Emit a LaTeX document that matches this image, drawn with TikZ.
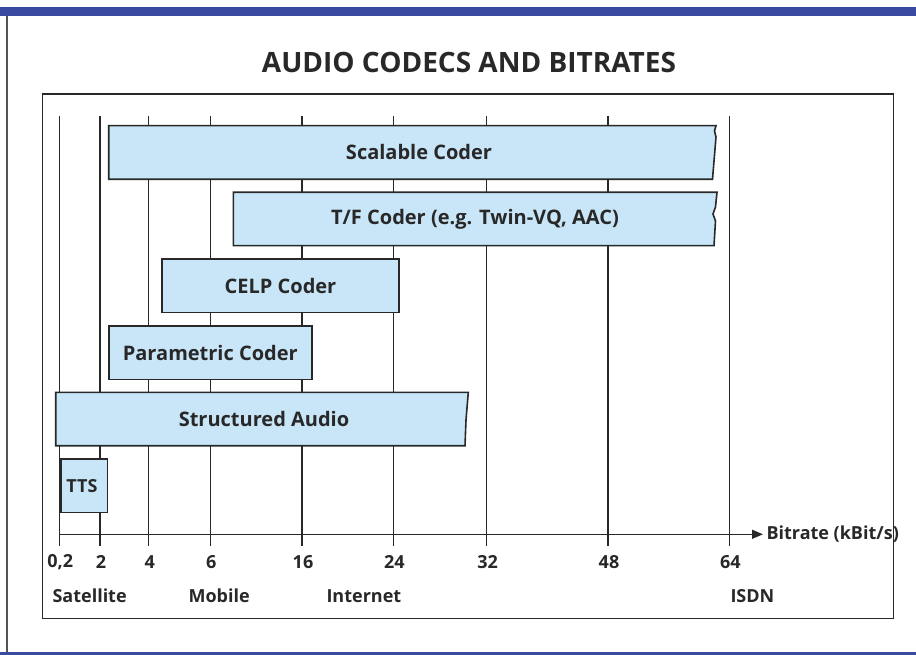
\documentclass[tikz,border=0pt]{standalone}
\usepackage{fontspec}
\setmainfont{Open Sans}
\usetikzlibrary{arrows.meta}
\definecolor{barblue}{RGB}{58,74,160}
\definecolor{boxblue}{RGB}{200,230,248}
\definecolor{inkgray}{RGB}{40,40,40}
\tikzset{
  grid line/.style={line width=1.2pt, inkgray},
  coder/.style={draw=inkgray, line width=1.6pt, fill=boxblue},
  coder text/.style={font=\bfseries\fontsize{20}{22}\selectfont, text=inkgray},
  tick text/.style={font=\bfseries\fontsize{18}{20}\selectfont, text=inkgray},
}
\begin{document}
\begin{tikzpicture}[x=1pt,y=-1pt,>={Triangle[length=11pt,width=9pt]}]
\useasboundingbox (0,0) rectangle (916,655);
\fill[white] (0,0) rectangle (916,655);
% frame
\fill[barblue] (0,7) rectangle (916,16);
\fill[barblue] (0,651.5) rectangle (916,655);
\draw[line width=1.2pt, inkgray!80] (7,16) -- (7,651.5);
\node[font=\bfseries\fontsize{28}{30}\selectfont, text=inkgray] (title) at (469,62) {AUDIO CODECS AND BITRATES};
\draw[line width=1.8pt, inkgray] (42.5,94) rectangle (893.5,618.5);
% grid lines
\foreach \x/\lab in {59.3/{0,2}, 100/2, 148.7/4, 210.3/6, 302/16, 393.3/24, 486.7/32, 608/48, 729.3/64} {
  \draw[grid line] (\x,116) -- (\x,546);
  \node[tick text] at (\x+1,562) {\lab};
}
% axis
\draw[->, line width=1.2pt, inkgray] (59.3,534.3) coordinate (axisstart) -- (763,534.3) coordinate (axisend);
\node[tick text, anchor=west] (axislabel) at (axisend) {Bitrate (kBit/s)};
% coders
\filldraw[coder] (108.7,125.7) -- (716,125.7) -- (714.5,131) -- (716,137) -- (712.5,179.3) -- (108.7,179.3) -- cycle;
\node[coder text] (scalable) at (419,152.5) {Scalable Coder};
\filldraw[coder] (233.3,192.3) -- (717,192.3) -- (715.5,207) -- (713,214) -- (715.5,221) -- (714,245.7) -- (233.3,245.7) -- cycle;
\node[coder text] (tf) at (475,219) {T/F Coder (e.g. Twin-VQ, AAC)};
\filldraw[coder] (162,259) rectangle (399,312.3);
\node[coder text] (celp) at (280.5,285.7) {CELP Coder};
\filldraw[coder] (109,325.7) rectangle (311.7,379.3);
\node[coder text] (parametric) at (210.3,352.5) {Parametric Coder};
\filldraw[coder] (55.7,392.3) -- (468.3,392.3) -- (466,420) -- (465,445.7) -- (55.7,445.7) -- cycle;
\node[coder text] (structured) at (264,419) {Structured Audio};
\filldraw[coder] (61,459) rectangle (107.3,512.3);
\node[coder text, font=\bfseries\fontsize{18}{20}\selectfont] (tts) at (82,485.7) {TTS};
% application areas
\node[tick text, anchor=west] (satellite) at (49,596) {Satellite};
\node[tick text, anchor=west] (mobile) at (185,596) {Mobile};
\node[tick text, anchor=west] (internet) at (323,596) {Internet};
\node[tick text, anchor=west] (isdn) at (727,596) {ISDN};
\end{tikzpicture}
\end{document}
